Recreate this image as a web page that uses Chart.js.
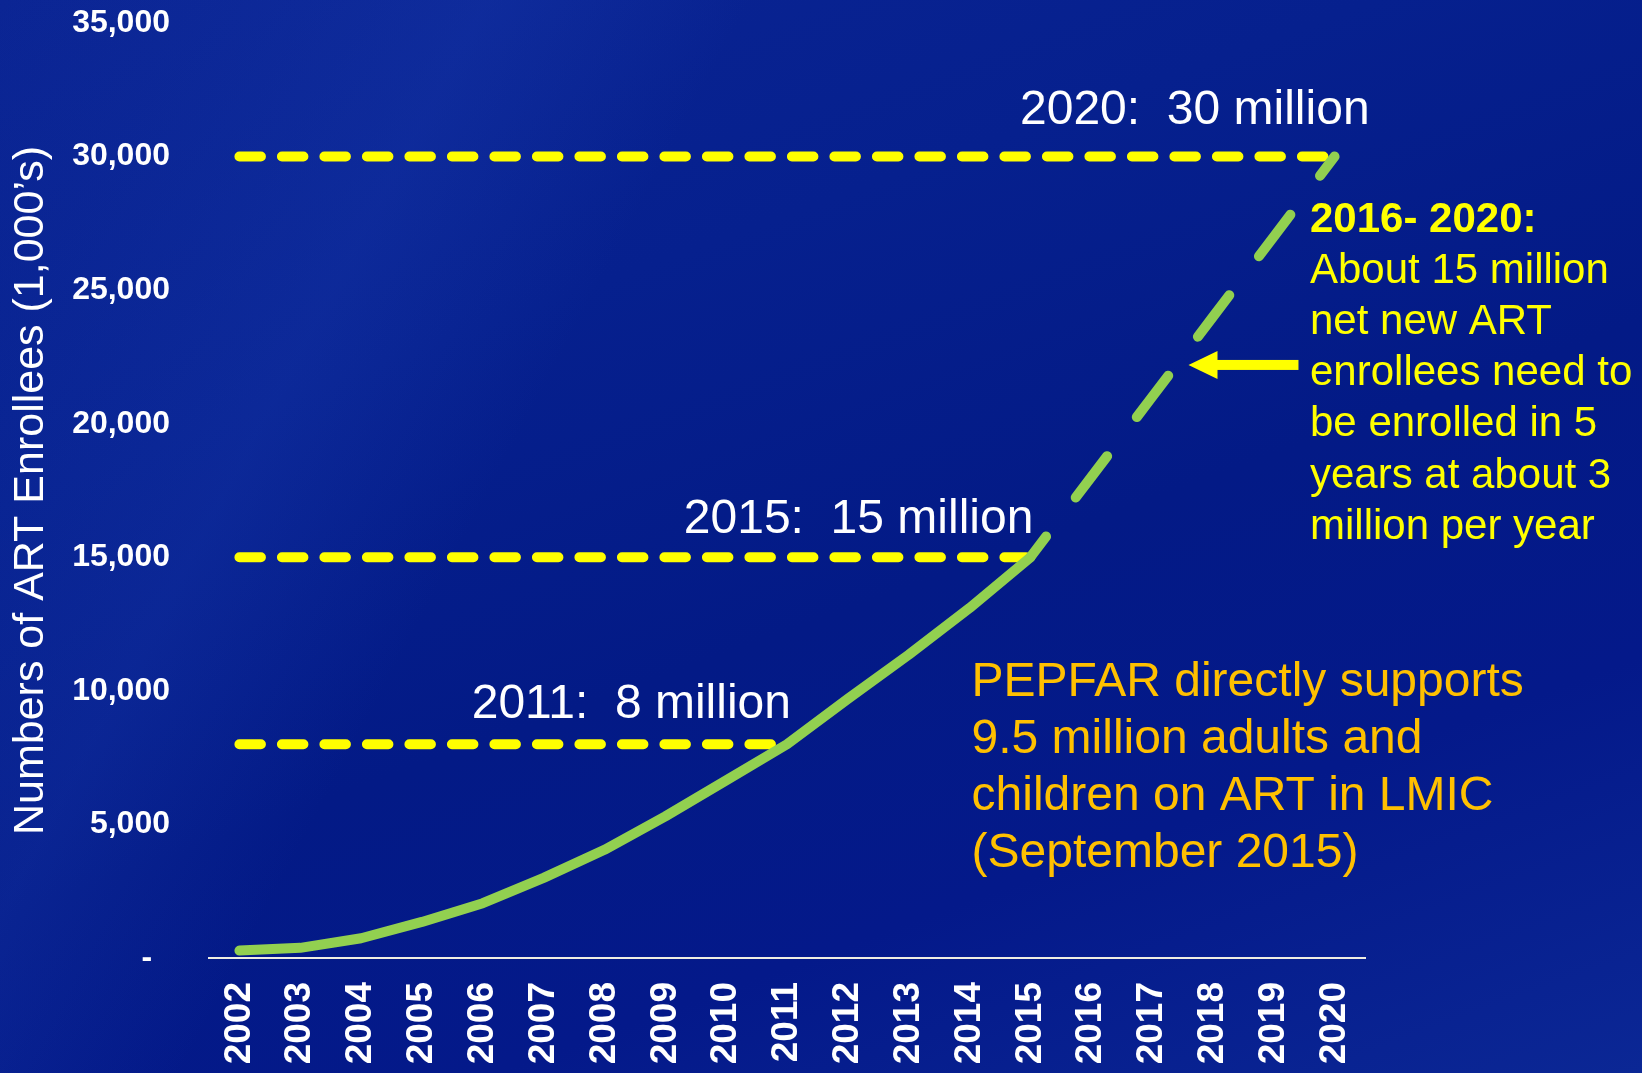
<!DOCTYPE html>
<html>
<head>
<meta charset="utf-8">
<title>ART enrollees</title>
<script src="https://cdn.jsdelivr.net/npm/chart.js@4.4.1/dist/chart.umd.min.js"></script>
<style>
  html, body { margin: 0; padding: 0; }
  body {
    width: 1642px;
    height: 1073px;
    overflow: hidden;
    background:
      linear-gradient(118deg, rgba(40,80,200,0) 0%, rgba(40,80,200,0.18) 22%, rgba(40,80,200,0) 34%, rgba(40,80,200,0) 100%),
      linear-gradient(160deg, #0b2594 0%, #06208e 30%, #031a86 55%, #04198a 75%, #0b2795 100%);
  }
  #artChart { display: block; }
</style>
</head>
<body>
<canvas id="artChart" width="1642" height="1073"></canvas>
<script>
// data
var years = ['2002', '2003', '2004', '2005', '2006', '2007', '2008', '2009', '2010', '2011',
             '2012', '2013', '2014', '2015', '2016', '2017', '2018', '2019', '2020'];
var enrollees = [280, 380, 740, 1350, 2050, 3000, 4050, 5300, 6650, 8000,
                 9700, 11350, 13100, 15000, 18000, 21000, 24000, 27000, 30000];
var projectedFrom = '2015';

var targetYears = ['2011', '2015', '2020'];
var targetValues = [8000, 15000, 30000];
var targetLabels = ['2011:  8 million', '2015:  15 million', '2020:  30 million'];

var yMax = 35000;
var yStep = 5000;
var yTitle = 'Numbers of ART Enrollees (1,000\u2019s)';

var noteHead = '2016- 2020:';
var noteLines = ['About 15 million', 'net new ART', 'enrollees need to',
                 'be enrolled in 5', 'years at about 3', 'million per year'];
var pepfarLines = ['PEPFAR directly supports', '9.5 million adults and',
                   'children on ART in LMIC', '(September 2015)'];

var FONT = '"Liberation Sans", Arial, Helvetica, sans-serif';
Chart.defaults.font.family = FONT;

var green = '#92d050';
var yellow = '#ffff00';
var orange = '#ffc000';

function thousands(v) {
  return String(v).replace(/\B(?=(\d{3})+(?!\d))/g, ',');
}

// horizontal target lines, one dataset per target
var targetSets = targetYears.map(function(yr, k) {
  var last = years.indexOf(yr);
  return {
    label: targetLabels[k],
    data: years.map(function(y, i) { return i <= last ? targetValues[k] : null; }),
    borderColor: yellow,
    borderWidth: 10,
    borderDash: [21.5, 21],
    borderCapStyle: 'round',
    pointRadius: 0,
    tension: 0,
    order: 1
  };
});

var dashStart = years.indexOf(projectedFrom);

// text labels and arrow
var notesPlugin = {
  id: 'notes',
  afterDatasetsDraw: function(chart) {
    var ctx = chart.ctx;
    var xs = chart.scales.x, ys = chart.scales.y;
    var area = chart.chartArea;
    ctx.save();

    // target captions above the dashed lines
    var dx = [4, 3, 35];
    var dy = [-26, -24, -33];
    ctx.font = '48px ' + FONT;
    ctx.fillStyle = '#ffffff';
    ctx.textAlign = 'right';
    ctx.textBaseline = 'alphabetic';
    targetLabels.forEach(function(t, k) {
      var px = xs.getPixelForValue(years.indexOf(targetYears[k]));
      var py = ys.getPixelForValue(targetValues[k]);
      ctx.fillText(t, px + dx[k], py + dy[k]);
    });

    // 2016-2020 note
    ctx.textAlign = 'left';
    ctx.fillStyle = yellow;
    var nx = area.right - 55;
    var ny = ys.getPixelForValue(30000) + 75;
    ctx.font = 'bold 42px ' + FONT;
    ctx.fillText(noteHead, nx, ny);
    ctx.font = '42px ' + FONT;
    noteLines.forEach(function(t, i) {
      ctx.fillText(t, nx, ny + 51.2 * (i + 1));
    });

    // arrow pointing at the projected line
    var tipX = (xs.getPixelForValue(15) + xs.getPixelForValue(16)) / 2 + 6;
    var tipY = ys.getPixelForValue(22200);
    ctx.fillStyle = yellow;
    ctx.fillRect(tipX + 28, tipY - 5, 82, 10);
    ctx.beginPath();
    ctx.moveTo(tipX, tipY);
    ctx.lineTo(tipX + 29, tipY - 14);
    ctx.lineTo(tipX + 29, tipY + 14);
    ctx.closePath();
    ctx.fill();

    // PEPFAR note
    ctx.fillStyle = orange;
    ctx.font = '48px ' + FONT;
    var px0 = xs.getPixelForValue(years.indexOf('2014')) + 2;
    var py0 = ys.getPixelForValue(10000) + 5;
    pepfarLines.forEach(function(t, i) {
      ctx.fillText(t, px0, py0 + 57 * i);
    });

    ctx.restore();
  }
};

new Chart(document.getElementById('artChart'), {
  type: 'line',
  data: {
    labels: years,
    datasets: [{
      label: 'ART enrollees',
      data: enrollees,
      borderColor: green,
      borderWidth: 10,
      borderCapStyle: 'round',
      borderJoinStyle: 'round',
      pointRadius: 0,
      tension: 0,
      order: 0,
      segment: {
        borderDash: function(c) { return c.p0DataIndex >= dashStart ? [52, 49] : undefined; },
        borderDashOffset: function(c) { return c.p0DataIndex >= dashStart ? 26 : undefined; }
      }
    }].concat(targetSets)
  },
  options: {
    responsive: false,
    animation: false,
    devicePixelRatio: 1,
    layout: { padding: { top: 23, right: 277, left: 0, bottom: 0 } },
    plugins: {
      legend: { display: false },
      tooltip: { enabled: false }
    },
    scales: {
      x: {
        offset: true,
        grid: { display: false, drawTicks: false },
        border: { display: true, color: '#efede2', width: 2 },
        ticks: {
          color: '#ffffff',
          font: { size: 37, weight: 'bold' },
          minRotation: 90,
          maxRotation: 90,
          autoSkip: false,
          padding: 24
        },
        afterFit: function(s) {
          s.height = 115;
          s.paddingLeft = 0;
          s.paddingRight = 0;
        }
      },
      y: {
        min: 0,
        max: yMax,
        grid: { display: false, drawTicks: false },
        border: { display: false },
        ticks: {
          stepSize: yStep,
          color: '#ffffff',
          font: { size: 32, weight: 'bold' },
          padding: 39,
          callback: function(v) { return v === 0 ? '-  ' : thousands(v); }
        },
        title: {
          display: true,
          text: yTitle,
          color: '#ffffff',
          font: { size: 43, weight: 'normal' },
          padding: { top: 5, bottom: 0 }
        },
        afterFit: function(s) {
          s.width = 209;
          s.paddingTop = 0;
          s.paddingBottom = 0;
        }
      }
    }
  },
  plugins: [notesPlugin]
});
</script>
</body>
</html>
